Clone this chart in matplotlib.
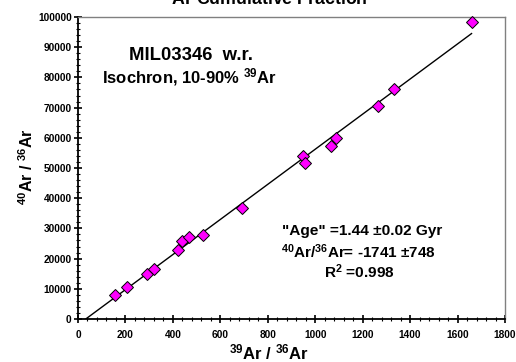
import numpy as np
import matplotlib
matplotlib.use("Agg")
import matplotlib.pyplot as plt
from matplotlib.ticker import MultipleLocator

plt.rcParams["font.family"] = ["Liberation Sans", "DejaVu Sans"]
plt.rcParams["font.weight"] = "bold"
plt.rcParams["mathtext.fontset"] = "custom"
plt.rcParams["mathtext.rm"] = "Liberation Sans:bold"
plt.rcParams["mathtext.it"] = "Liberation Sans:bold"
plt.rcParams["mathtext.bf"] = "Liberation Sans:bold"
plt.rcParams["mathtext.default"] = "rm"

# 39Ar/36Ar vs 40Ar/36Ar
ar39_36 = [155, 208, 289, 320, 423, 440, 468, 528, 692, 947, 958, 1065, 1087, 1266, 1332, 1659]
ar40_36 = [7900, 10700, 14800, 16650, 22700, 25700, 27000, 27700, 36850,
           53950, 51500, 57260, 60000, 70500, 76100, 98200]

x_ticks = [0, 200, 400, 600, 800, 1000, 1200, 1400, 1600, 1800]
y_ticks = [0, 10000, 20000, 30000, 40000, 50000, 60000, 70000, 80000, 90000, 100000]

W, H = 516, 362
fig = plt.figure(figsize=(W / 100, H / 100), dpi=100)
ax = fig.add_axes([78 / W, 1 - 319 / H, (505 - 78) / W, (319 - 17) / H])

# trend line: least squares, drawn from the x intercept to the last point
slope, icpt = np.polyfit(ar39_36, ar40_36, 1)
xl = np.array([-icpt / slope, max(ar39_36)])
ax.plot(xl, icpt + slope * xl, color="black", lw=1.0, zorder=2)

ax.plot(ar39_36, ar40_36, "D", ms=6.2, mfc="#FF00FF", mec="black", mew=0.7,
        ls="none", zorder=3, clip_on=False)

ax.set_xlim(x_ticks[0], x_ticks[-1])
ax.set_ylim(y_ticks[0], y_ticks[-1])
ax.set_xticks(x_ticks)
ax.set_yticks(y_ticks)
ax.xaxis.set_minor_locator(MultipleLocator(40))
ax.yaxis.set_minor_locator(MultipleLocator(2000))
ax.tick_params(which="major", direction="inout", length=6, width=1.2,
               labelsize=7.3)
ax.tick_params(axis="x", which="major", pad=5)
ax.tick_params(axis="y", which="major", pad=1.5)
ax.tick_params(which="minor", direction="inout", length=3.5, width=0.8)
for lab in ax.get_xticklabels() + ax.get_yticklabels():
    lab.set_fontweight("bold")

ax.spines["left"].set_linewidth(1.3)
ax.spines["bottom"].set_linewidth(1.3)
ax.spines["top"].set_color("#808080")
ax.spines["right"].set_color("#808080")
ax.spines["top"].set_linewidth(1.0)
ax.spines["right"].set_linewidth(1.0)

def px(x, y):
    return x / W, 1 - y / H

# title is cut by the top edge in the reference as well
fig.text(*px(262, 5), r"$^{39}$Ar Cumulative Fraction", ha="center", va="baseline",
         fontsize=12.8, fontweight="bold")
fig.text(*px(269, 352), r"$^{39}$Ar / $^{36}$Ar", ha="center", va="center",
         fontsize=12, fontweight="bold")
fig.text(*px(27, 167), r"$^{40}$Ar / $^{36}$Ar", ha="center", va="center",
         rotation=90, fontsize=11.5, fontweight="bold")

fig.text(*px(191, 56), "MIL03346  w.r.", ha="center", va="center",
         fontsize=13.3, fontweight="bold")
fig.text(*px(190, 77), r"Isochron, 10-90% $^{39}$Ar", ha="center", va="center",
         fontsize=12, fontweight="bold")
fig.text(*px(362, 231), '"Age" =1.44 \u00b10.02 Gyr', ha="center", va="center",
         fontsize=11.1, fontweight="bold")
fig.text(*px(358, 252), r"$^{40}$Ar/$^{36}$Ar= -1741 $\pm$748", ha="center", va="center",
         fontsize=11, fontweight="bold")
fig.text(*px(359, 272), r"R$^{2}$ =0.998", ha="center", va="center",
         fontsize=11.1, fontweight="bold")

fig.savefig("out.png", dpi=100)
